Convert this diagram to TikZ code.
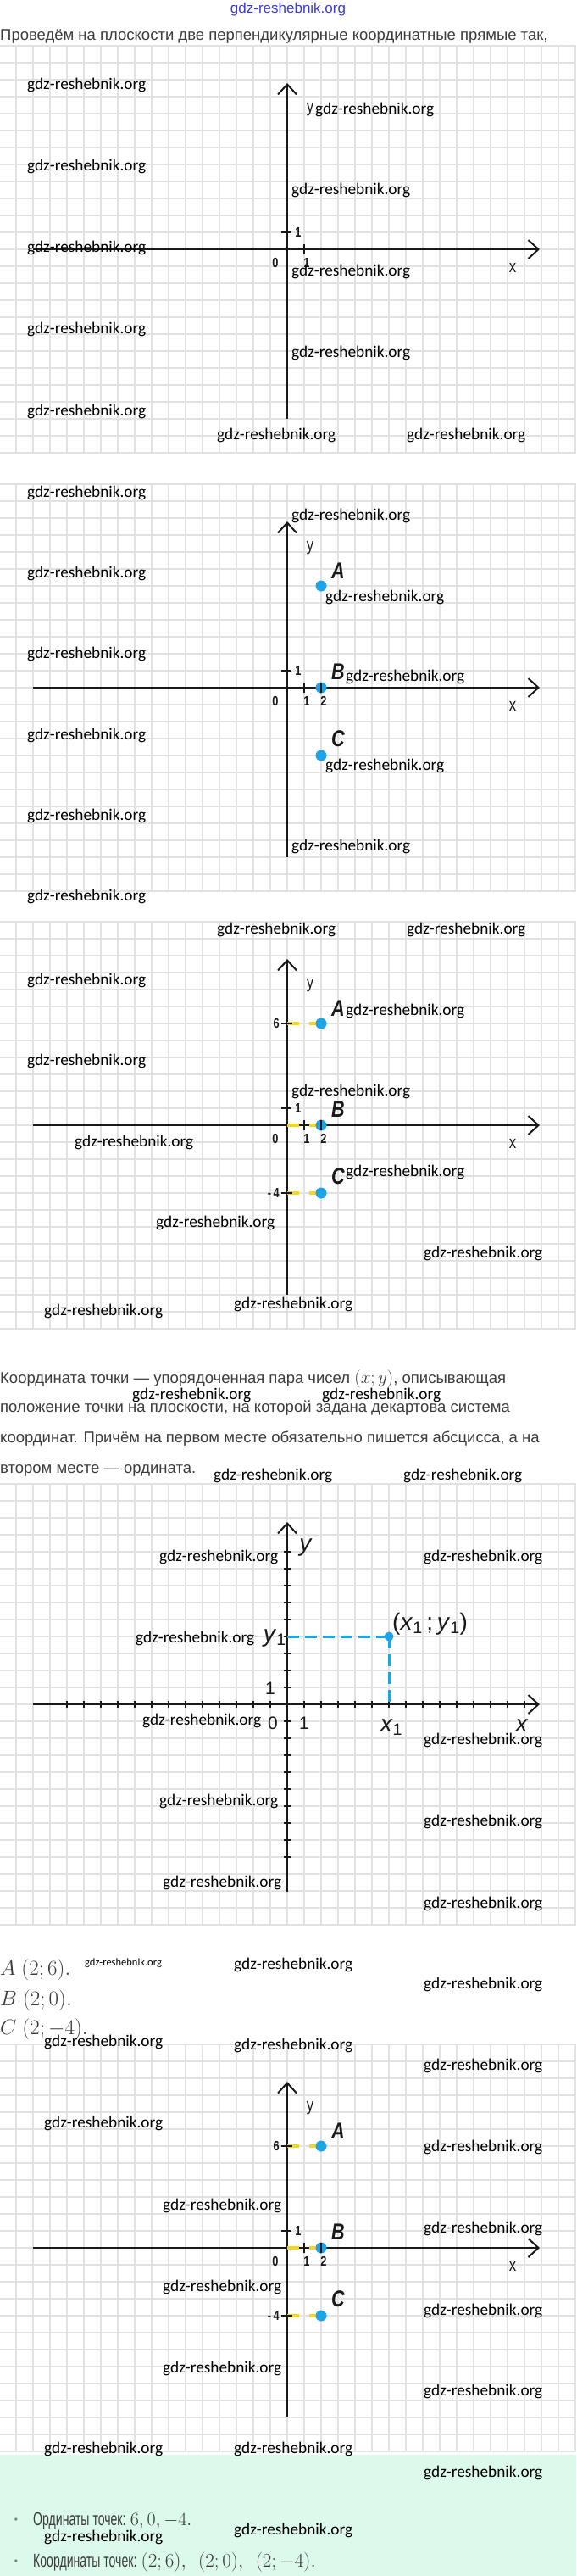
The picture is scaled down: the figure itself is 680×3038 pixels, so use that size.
\documentclass[tikz,border=0pt]{standalone}
\usepackage{fix-cm}
\usepackage[no-math]{fontspec}
\setmainfont{Liberation Sans}
\newfontfamily\wmfont{Carlito}
\newfontfamily\narrowfont[FakeStretch=0.8]{Liberation Sans}
\newfontfamily\condfont[FakeStretch=0.64]{Liberation Sans}
\usetikzlibrary{arrows.meta}
\definecolor{gridgray}{RGB}{226,226,226}
\definecolor{axisblack}{RGB}{25,25,25}
\definecolor{ptblue}{RGB}{30,164,230}
\definecolor{dashyellow}{RGB}{247,214,30}
\definecolor{txtgray}{RGB}{60,60,60}
\definecolor{mint}{RGB}{220,250,236}
\definecolor{wmblue}{RGB}{60,60,215}

\begin{document}
\begin{tikzpicture}[x=1pt, y=-1pt,
  gridline/.style={draw=gridgray, line width=1.2pt},
  axisline/.style={draw=axisblack, line width=2pt, -{Straight Barb[length=12pt,width=22pt]}},
  tickline/.style={draw=axisblack, line width=1.8pt},
  ydash/.style={draw=dashyellow, line width=4pt, dash pattern=on 14pt off 12pt},
  bdash/.style={draw=ptblue, line width=3pt, dash pattern=on 14pt off 7pt},
  pt/.style={circle, fill=ptblue, inner sep=0pt, minimum size=13pt},
  wmark/.style={anchor=west, inner sep=0pt, font=\wmfont\fontsize{19.3}{22}\selectfont},
  body/.style={anchor=west, inner sep=0pt, text=txtgray, font=\fontsize{18.5}{22}\selectfont},
  num/.style={inner sep=0pt, text=axisblack, font=\narrowfont\bfseries\fontsize{16}{18}\selectfont},
  axlbl/.style={inner sep=0pt, text=axisblack, font=\narrowfont\fontsize{21}{24}\selectfont},
  ptlbl/.style={inner sep=0pt, text=axisblack, font=\narrowfont\bfseries\itshape\fontsize{27}{30}\selectfont},
  biglbl/.style={inner sep=0pt, text=axisblack, font=\fontsize{28}{32}\selectfont},
  midlbl/.style={inner sep=0pt, text=axisblack, font=\fontsize{21}{24}\selectfont},
  mathlbl/.style={anchor=west, inner sep=0pt, text=txtgray, font=\fontsize{25}{29}\selectfont},
  sumline/.style={anchor=west, inner sep=0pt, text=txtgray, font=\condfont\fontsize{22}{26}\selectfont}]
\useasboundingbox (0,0) rectangle (680,3038);
\fill[white] (0,0) rectangle (680,3038);
\fill[mint] (0,2895) rectangle (680,3038);

% header
\node[inner sep=0pt, text=wmblue, font=\fontsize{17}{20}\selectfont] (topwm) at (340,11) {gdz-reshebnik.org};
\node[body] (title) at (0,43) {Проведём на плоскости две перпендикулярные координатные прямые так,};

% four small coordinate planes
\foreach \oy/\g/\pts/\yel in {294/1/0/0, 811/2/1/0, 1327/3/1/1, 2651/5/1/1} {
  \begin{scope}[shift={(339,\oy)}, x=20pt, y=20pt]
    \draw[gridline, step=1] (-16.95,-12) grid (17.05,12);
    \coordinate (O\g) at (0,0);
    \coordinate (xl\g) at (-15,0);
    \coordinate (xr\g) at (14.9,0);
    \coordinate (yb\g) at (0,-10);
    \coordinate (yt\g) at (0,9.8);
    \draw[axisline] (xl\g) -- (xr\g);
    \draw[axisline] (yb\g) -- (yt\g);
    \coordinate (A\g) at (2,6);
    \coordinate (B\g) at (2,0);
    \coordinate (C\g) at (2,-4);
    \ifnum\yel=1
      \coordinate (ya\g) at (0,6);
      \coordinate (yc\g) at (0,-4);
      \draw[ydash] (ya\g) -- (A\g);
      \draw[ydash] (O\g) -- (B\g);
      \draw[ydash] (yc\g) -- (C\g);
      \draw[tickline] (-0.35,6) -- (0.3,6);
      \draw[tickline] (-0.35,-4) -- (0.3,-4);
      \node[num, anchor=east] (l6\g) at (-0.45,6) {6};
      \node[num, anchor=east] (lm4\g) at (-0.45,-4) {-\,4};
    \fi
    \draw[tickline] (1,-0.3) -- (1,0.3);
    \draw[tickline] (-0.35,1) -- (0.2,1);
    \node[num] (n0\g) at (-0.7,-0.8) {0};
    \node[num] (nx\g) at (1.15,-0.8) {1};
    \node[num] (ny\g) at (0.65,1) {1};
    \node[axlbl] (lx\g) at (13.3,-1.1) {x};
    \node[axlbl] (ly\g) at (1.35,8.25) {y};
    \ifnum\pts=1
      \node[pt] (pA\g) at (A\g) {};
      \node[pt] (pB\g) at (B\g) {};
      \node[pt] (pC\g) at (C\g) {};
      \draw[tickline] (2,-0.3) -- (2,0.3);
      \node[num] (n2\g) at (2.15,-0.8) {2};
      \node[ptlbl] (lA\g) at (3,6.9) {A};
      \node[ptlbl] (lB\g) at (3,0.95) {B};
      \node[ptlbl] (lC\g) at (3,-3) {C};
    \fi
  \end{scope}
}

% definition text
\node[body] (def1) at (0,1626) {Координата точки — упорядоченная пара чисел {\fontsize{21}{24}\selectfont$(x; y)$}, описывающая};
\node[body] (def2) at (0,1661) {положение точки на плоскости, на которой задана декартова система};
\node[body] (def3) at (0,1697) {координат. Причём на первом месте обязательно пишется абсцисса, а на};
\node[body] (def4) at (0,1734) {втором месте — ордината.};

% general point (x1; y1)
\begin{scope}[shift={(339,2010)}, x=20pt, y=20pt]
  \draw[gridline, step=1] (-16.95,-13) grid (17.05,13);
  \coordinate (O4) at (0,0);
  \coordinate (xl4) at (-15,0);
  \coordinate (xr4) at (14.9,0);
  \coordinate (yb4) at (0,-11.05);
  \coordinate (yt4) at (0,10.75);
  \draw[axisline] (xl4) -- (xr4);
  \draw[axisline] (yb4) -- (yt4);
  \foreach \k in {-13,...,-1,1,2,...,14}
    \draw[tickline] (\k,-0.22) -- (\k,0.22);
  \foreach \k in {-9,...,-1,1,2,...,9}
    \draw[tickline] (-0.22,\k) -- (0.22,\k);
  \coordinate (P) at (6,4);
  \coordinate (Py) at (0,4);
  \coordinate (Px) at (6,0);
  \draw[bdash] (Py) -- (P);
  \draw[bdash] (P) -- (Px);
  \node[pt, minimum size=11pt] (pP) at (P) {};
  \node[biglbl] (ly4) at (1.1,9.25) {\textit{y}};
  \node[biglbl, anchor=east] (ly1) at (-0.05,3.9) {\textit{y}\textsubscript{1}};
  \node[biglbl, anchor=west] (lP) at (6.2,4.75) {(\textit{x}\textsubscript{1}\,;\,\textit{y}\textsubscript{1})};
  \node[midlbl] (n1y4) at (-1,0.95) {1};
  \node[midlbl] (n04) at (-0.85,-1.1) {0};
  \node[midlbl] (n1x4) at (1,-1.1) {1};
  \node[biglbl] (lx14) at (6.15,-1.35) {\textit{x}\textsubscript{1}};
  \node[biglbl] (lx4) at (13.85,-1.25) {\textit{x}};
\end{scope}

% answers
\node[mathlbl] (ansA) at (0,2323) {$A\ (2; 6).$};
\node[mathlbl] (ansB) at (0,2359) {$B\ (2; 0).$};
\node[mathlbl] (ansC) at (0,2393) {$C\ (2; -4).$};

% summary
\node[inner sep=0pt, text=gray, font=\fontsize{12}{14}\selectfont] (dot1) at (19,2973) {•};
\node[inner sep=0pt, text=gray, font=\fontsize{12}{14}\selectfont] (dot2) at (19,3022) {•};
\node[sumline] (sum1) at (39,2973) {Ординаты точек: {\fontsize{22}{26}\selectfont$6, 0, -4.$}};
\node[sumline] (sum2) at (39,3022) {Координаты точек: {\fontsize{23}{27}\selectfont$(2; 6),\;\ (2; 0),\;\ (2; -4).$}};

% watermarks
\node[wmark, font=\wmfont\fontsize{12.5}{14}\selectfont] (wm0) at (100,2315) {gdz-reshebnik.org};
\foreach \wx/\wy [count=\i] in {32/100, 372/129, 32/196, 344/224, 32/292, 344/320, 32/388, 344/416, 32/485, 256/513, 480/513,
  32/581, 344/608, 32/676, 384/704, 32/771, 408/798, 32/867, 384/903, 32/962, 344/998, 32/1057,
  256/1096, 480/1096, 32/1156, 408/1192, 32/1251, 344/1287, 88/1347, 408/1382, 184/1442, 500/1478, 276/1538, 52/1546,
  156/1645, 380/1645, 252/1740, 476/1740, 188/1836, 500/1836, 160/1932, 168/2029, 500/2052, 188/2124, 500/2148, 192/2220, 500/2245,
  276/2317, 500/2340, 52/2408, 276/2412, 500/2436, 52/2504, 500/2532, 192/2601, 500/2628, 192/2697, 500/2725, 192/2793, 500/2820,
  52/2888, 276/2888, 500/2916, 276/2984, 52/2992}
  \node[wmark] (wm\i) at (\wx,\wy) {gdz-reshebnik.org};
\end{tikzpicture}
\end{document}
